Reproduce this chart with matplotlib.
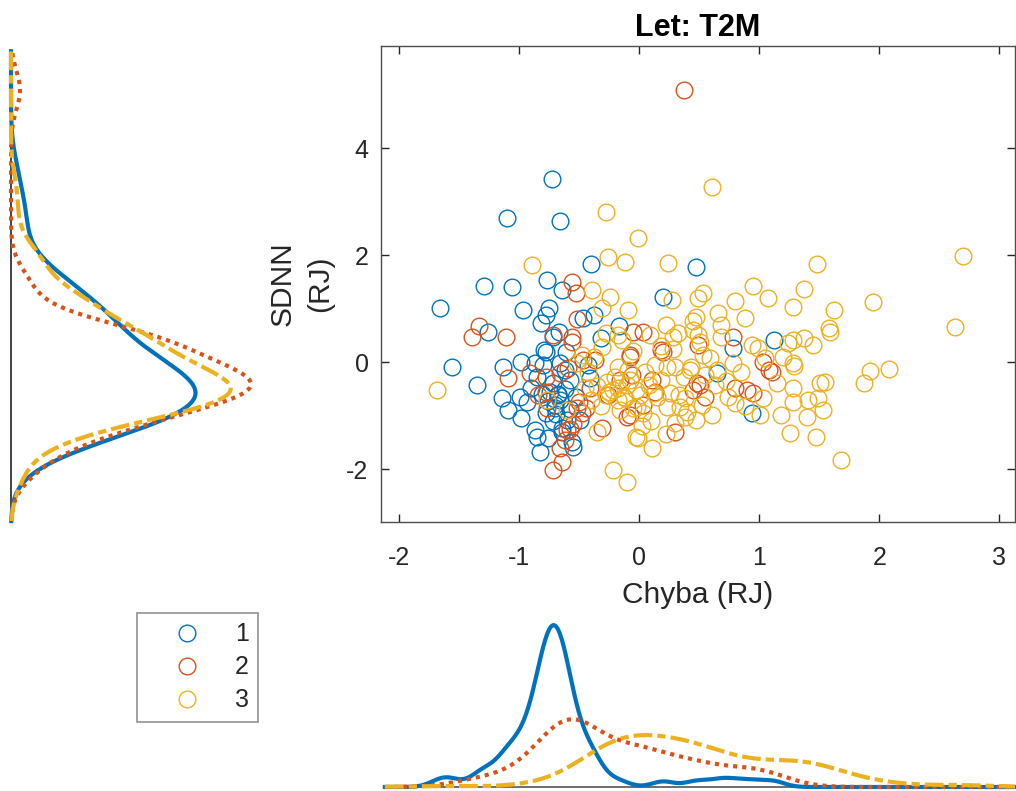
import numpy as np
import matplotlib
matplotlib.use("Agg")
import matplotlib.pyplot as plt
from matplotlib.lines import Line2D

plt.rcParams['font.family'] = ['Liberation Sans', 'DejaVu Sans']

# ---------------- data ----------------
title = "Let: T2M"
xlabel = "Chyba (RJ)"
ylabel = "SDNN\n(RJ)"
groups = ["1", "2", "3"]
xticks = [-2, -1, 0, 1, 2, 3]
yticks = [-2, 0, 2, 4]

g1_x = [-1.66, -1.29, -1.06, -1.10, -0.73, -0.66, -0.40, 0.47, -0.77, -0.64,
        -0.97, -0.75, -0.78, -0.82, -0.47, -0.38, -1.26, -0.67, -0.17, 0.20,
        1.12, 0.78, 0.65, 0.94, -1.56, -1.35, -1.13, -0.98, -0.87, -0.78,
        -0.72, -1.14, -1.09, -0.99, -0.93, -0.98, -0.87, -0.85, -0.76, -0.83,
        -0.56, -0.55, -0.64, -0.60, -0.68, -0.72, -0.53, -0.85, -0.66, -0.58,
        -0.43, -0.32, -0.79, -0.80, -0.61, -0.69, -0.49, -0.41, -0.90, -0.62,
        -0.74, -0.70, -0.66, -0.78, -0.62, -0.72, -0.68, -0.76, -0.58, -0.81,
        -0.64, -0.70]
g1_y = [1.01, 1.42, 1.40, 2.69, 3.42, 2.64, 1.83, 1.78, 1.53, 1.35,
        0.97, 1.01, 0.88, 0.73, 0.82, 0.88, 0.56, 0.56, 0.67, 1.21,
        0.41, 0.26, -0.21, -0.95, -0.09, -0.43, -0.09, 0.00, -0.02, 0.19,
        0.47, -0.67, -0.90, -0.65, -0.75, -1.05, -1.27, -1.40, -1.42, -1.68,
        -1.50, -1.59, -1.23, -1.08, -0.62, -0.39, -0.65, -0.28, -0.02, -0.34,
        -0.06, 0.45, 0.22, -0.06, 0.19, -0.97, -1.08, -0.30, -0.48, -0.15,
        -0.55, -0.80, -0.70, -0.95, -0.50, -1.10, -0.60, -0.72, -0.88, -0.60,
        -1.30, -0.85]

g2_x = [0.37, -0.56, -0.53, -1.33, -1.39, -1.11, -0.72, -0.56, -0.05, 0.03,
        0.78, 0.49, -0.08, 0.20, 1.03, 1.11, 0.11, 0.13, 0.51, 0.45,
        0.55, 0.80, 0.90, 0.95, 0.30, -0.08, 0.03, 0.48, -1.09, -0.78,
        -0.84, -0.77, -0.52, -0.91, -0.78, -0.66, -0.59, -0.56, -0.37, -0.41,
        -0.26, -0.16, -0.06, -0.08, -0.10, -0.31, -0.60, -0.64, -0.72, 0.18,
        -0.47, 1.08, -0.55, -0.62, -0.48, -0.50, -0.66, -0.44, -0.58, -0.52]
g2_y = [5.08, 1.50, 1.29, 0.67, 0.47, 0.47, 0.50, 0.47, 0.56, 0.56,
        0.47, 0.32, 0.13, 0.19, 0.00, -0.19, -0.34, -0.56, -0.43, -0.52,
        -0.65, -0.49, -0.52, -0.58, -1.31, -0.99, -0.80, -0.39, -0.30, -0.56,
        -0.62, -0.86, -0.86, -0.21, -0.28, -0.21, -0.11, 0.37, 0.04, -0.49,
        -0.62, -0.34, -0.24, 0.09, -1.03, -1.23, -1.27, -1.87, -2.02, 0.22,
        0.04, -0.15, -1.15, -1.45, -0.95, -0.75, -1.60, -0.85, -1.25, 0.80]

g3_x = [-0.28, -0.89, -0.26, -0.12, -0.01, -0.39, -0.24, -0.31, -0.09, -0.28,
        -0.18, 0.61, 0.24, 0.95, 1.07, 1.37, 1.48, 1.28, 1.62, 1.58,
        0.27, 0.49, 0.53, 0.66, 0.47, 0.45, 0.22, 0.32, 0.49, 0.68,
        1.28, 1.37, 2.70, 2.63, 1.95, 1.92, 2.08, 1.87, 1.29, 0.09,
        0.28, 0.51, 0.99, 1.24, 1.45, 1.59, -0.14, 0.53, 0.59, 0.78,
        1.28, 1.05, 0.65, 1.55, 1.51, 1.28, 1.03, 1.01, 0.80, 0.74,
        1.18, 1.28, 1.41, 1.49, 1.53, 1.40, 1.26, 1.47, 1.68, 0.61,
        0.47, 0.38, 0.40, 0.30, 0.23, 0.34, -0.01, 0.11, -0.10, 0.03,
        0.15, 0.26, 0.38, 0.37, 0.30, 0.43, 0.23, 0.18, -0.08, -0.13,
        -0.03, -1.68, -0.77, -0.60, -0.52, -0.43, -0.38, -0.31, -0.27, -0.22,
        -0.18, -0.09, -0.18, -0.35, -0.03, -0.22, -0.16, -0.02, -0.45, -0.35,
        -0.28, -0.20, -0.10, 0.01, 0.05, 0.13, -0.32, -0.40, 0.08, 0.55,
        0.63, 0.52, 0.72, 0.85, 0.88, 0.94, 0.68, 0.88, 0.80, -0.05,
        0.18, -0.48, 1.15, 1.20, -0.25, -0.12, 0.02, 0.12, 0.22, 0.33,
        0.42, -0.05, 0.28, 0.10, -0.18, 0.45]
g3_y = [2.80, 1.81, 1.96, 1.87, 2.32, 1.35, 1.21, 1.01, 0.97, 0.54,
        0.50, 3.27, 1.85, 1.42, 1.20, 1.36, 1.83, 1.03, 0.97, 0.64,
        1.16, 1.20, 1.29, 0.92, 0.84, 0.76, 0.69, 0.54, 0.50, 0.47,
        0.41, 0.45, 1.98, 0.65, 1.12, -0.17, -0.13, -0.39, -0.07, 0.50,
        0.47, 0.37, 0.26, 0.36, 0.32, 0.56, 0.41, 0.13, 0.07, -0.02,
        -0.02, 0.07, -0.15, -0.37, -0.39, -0.49, -0.67, -0.99, -0.77, -0.65,
        -0.99, -0.75, -0.71, -0.67, -0.90, -1.03, -1.33, -1.40, -1.83, -0.99,
        -1.08, -1.03, -0.93, -1.14, -0.84, -0.84, -1.42, -1.61, -2.24, -0.95,
        -0.65, -0.58, -0.67, -0.28, -0.09, -0.09, -0.09, -0.34, -0.34, -0.65,
        -0.52, -0.52, -0.71, -0.90, -0.02, -0.19, 0.09, 0.28, -0.37, -0.52,
        -0.71, -0.15, -0.09, -1.31, -1.40, -2.02, -0.90, -0.84, -0.49, -0.45,
        -0.62, -0.28, -0.43, -0.62, -0.19, -0.06, -0.82, -0.70, -0.43, -0.25,
        -0.43, -0.80, -0.35, -0.19, -0.82, 0.32, 0.69, 0.82, 1.14, 0.20,
        0.30, 0.13, -0.40, 0.10, -0.55, -0.68, -1.20, -0.58, -1.35, -0.62,
        -0.15, -0.85, 0.25, -1.10, -0.48, 0.60]

# ---------------- style ----------------
colors = ["#0072BD", "#D95319", "#EDB120"]
W, H = 1016, 791
fig = plt.figure(figsize=(W / 100, H / 100), dpi=100)


def px_axes(l, t, r, b):
    return fig.add_axes([l / W, 1 - b / H, (r - l) / W, (b - t) / H])


ax = px_axes(381, 46, 1015, 522)
axb = px_axes(381, 625, 1015, 787)
axl = px_axes(11, 46, 251, 522)

xs = [np.asarray(g1_x), np.asarray(g2_x), np.asarray(g3_x)]
ys = [np.asarray(g1_y), np.asarray(g2_y), np.asarray(g3_y)]

MS = 12
for x, y, c, g in zip(xs, ys, colors, groups):
    ax.plot(x, y, linestyle="none", marker="o", ms=MS, mfc="none",
            mec=c, mew=1.0, label=g)

ax.set_xlim(-2.15, 3.13)
ax.set_ylim(-2.99, 5.91)
ax.set_xticks(xticks)
ax.set_yticks(yticks)
ax.set_xticklabels([str(v) for v in xticks])
ax.set_yticklabels([str(v) for v in yticks])
ax.tick_params(direction="in", length=6, width=1.0, colors="#262626",
               labelsize=18, top=True, right=True)
ax.tick_params(axis="x", pad=17)
ax.tick_params(axis="y", pad=9)
for s in ax.spines.values():
    s.set_color("#4d4d4d")
    s.set_linewidth(1.0)
ax.set_title(title, fontsize=22, fontweight="bold", pad=7, color="black")
ax.set_xlabel(xlabel, fontsize=21.5, color="#262626", labelpad=8)
ax.set_ylabel(ylabel, fontsize=21.5, color="#262626", labelpad=9,
              linespacing=1.42)


def ksdensity(data, grid):
    n = len(data)
    sig = np.median(np.abs(data - np.median(data))) / 0.6745
    bw = sig * (4.0 / (3.0 * n)) ** 0.2
    z = (grid[:, None] - data[None, :]) / bw
    return np.exp(-0.5 * z ** 2).sum(axis=1) / (n * bw * np.sqrt(2 * np.pi))


allx = np.concatenate(xs)
ally = np.concatenate(ys)
rx = allx.max() - allx.min()
ry = ally.max() - ally.min()
gx = np.linspace(allx.min() - 0.1 * rx, ax.get_xlim()[1], 300)
gy = np.linspace(ally.min() - 0.1 * ry, ally.max() + 0.1 * ry, 300)

styles = [dict(linestyle="-"),
          dict(linestyle=(0, (1.0, 1.2))),
          dict(linestyle=(0, (4.5, 1.2, 2.0, 1.2)))]

dx_all = [ksdensity(x, gx) for x in xs]
dy_all = [ksdensity(y, gy) for y in ys]

axb.plot([gx[0], gx[-1]], [0, 0], color="#555555", lw=1.2, zorder=1)
axl.plot([0, 0], [gy[0], gy[-1]], color="#222222", lw=1.2, zorder=1)
for d, c, st in zip(dx_all, colors, styles):
    axb.plot(gx, d, color=c, lw=3, dash_capstyle="butt", zorder=2, **st)
for d, c, st in zip(dy_all, colors, styles):
    axl.plot(d, gy, color=c, lw=3, dash_capstyle="butt", zorder=2, **st)

axb.set_xlim(ax.get_xlim())
axb.set_ylim(0, max(d.max() for d in dx_all))
axl.set_ylim(ax.get_ylim())
axl.set_xlim(0, max(d.max() for d in dy_all))
for a in (axb, axl):
    a.set_axis_off()
    for l in a.lines:
        l.set_clip_on(False)

handles = [Line2D([], [], linestyle="none", marker="o", ms=MS, mfc="none",
                  mec=c, mew=1.0) for c in colors]
leg = fig.legend(handles, groups, loc="upper left",
                 bbox_to_anchor=(137 / W, 1 - 613 / H), borderaxespad=0,
                 prop={"size": 18}, frameon=True, fancybox=False,
                 edgecolor="#777777", handlelength=3.25, handletextpad=0.3,
                 borderpad=0.37, labelspacing=0.36)
leg.get_frame().set_linewidth(1.2)
for t in leg.get_texts():
    t.set_color("#262626")

fig.savefig("out.png", dpi=100, facecolor="white")
